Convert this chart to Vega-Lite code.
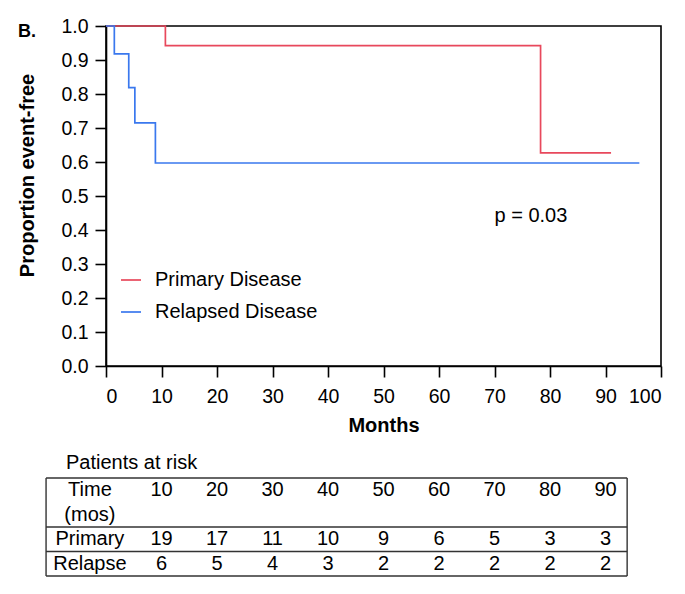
{
  "$schema": "https://vega.github.io/schema/vega-lite/v6.json",
  "background": "white",
  "padding": {"left": 17, "top": 15, "right": 10, "bottom": 10},
  "config": {
    "font": "Liberation Sans",
    "view": {"stroke": null},
    "axis": {
      "domainColor": "black", "domainWidth": 1.6,
      "tickColor": "black", "tickWidth": 1.6, "tickSize": 11,
      "labelFont": "Liberation Sans", "labelFontSize": 19.5, "labelColor": "black",
      "labelOverlap": false,
      "titleFont": "Liberation Sans", "titleFontSize": 20, "titleFontWeight": "bold", "titleColor": "black",
      "grid": false
    }
  },
  "spacing": 16,
  "resolve": {
    "scale": {"color": "independent", "x": "independent", "y": "independent"},
    "legend": {"color": "independent"}
  },
  "vconcat": [
    {
      "width": 555,
      "height": 340,
      "view": {"stroke": "black", "strokeWidth": 1.6},
      "title": {
        "text": "B.", "anchor": "start", "frame": "group",
        "fontSize": 18, "fontWeight": "bold", "color": "black", "font": "Liberation Sans",
        "dx": -88, "dy": 39, "offset": 0, "baseline": "alphabetic"
      },
      "layer": [
        {
          "data": {
            "values": [
              {"group": "Primary Disease", "month": 0, "surv": 1.0},
              {"group": "Primary Disease", "month": 10.7, "surv": 0.942},
              {"group": "Primary Disease", "month": 78.3, "surv": 0.627},
              {"group": "Primary Disease", "month": 91.0, "surv": 0.627},
              {"group": "Relapsed Disease", "month": 0, "surv": 1.0},
              {"group": "Relapsed Disease", "month": 1.5, "surv": 0.918},
              {"group": "Relapsed Disease", "month": 4.1, "surv": 0.819},
              {"group": "Relapsed Disease", "month": 5.2, "surv": 0.715},
              {"group": "Relapsed Disease", "month": 8.9, "surv": 0.597},
              {"group": "Relapsed Disease", "month": 96.1, "surv": 0.597}
            ]
          },
          "mark": {"type": "line", "interpolate": "step-after", "strokeWidth": 1.7},
          "encoding": {
            "x": {
              "field": "month", "type": "quantitative",
              "scale": {"domain": [0, 100], "nice": false},
              "axis": {
                "title": "Months",
                "values": [0, 10, 20, 30, 40, 50, 60, 70, 80, 90, 100],
                "labelOverlap": false,
                "labelPadding": 10, "titlePadding": 10
              }
            },
            "y": {
              "field": "surv", "type": "quantitative",
              "scale": {"domain": [0, 1], "nice": false},
              "axis": {
                "title": "Proportion event-free",
                "values": [0, 0.1, 0.2, 0.3, 0.4, 0.5, 0.6, 0.7, 0.8, 0.9, 1.0],
                "tickCount": 11,
                "format": ".1f",
                "labelOverlap": false,
                "labelSeparation": 0,
                "labelPadding": 7, "titlePadding": 23, "titleY": 149
              }
            },
            "color": {
              "field": "group", "type": "nominal",
              "scale": {"domain": ["Primary Disease", "Relapsed Disease"], "range": ["#e8485c", "#3a78ee"]},
              "legend": {
                "title": null, "orient": "none", "legendX": 14, "legendY": 243,
                "symbolType": "stroke", "symbolSize": 400, "symbolStrokeWidth": 1.7,
                "labelFont": "Liberation Sans", "labelFontSize": 20, "labelColor": "black",
                "labelOffset": 13, "labelLimit": 400, "rowPadding": 11, "padding": 0
              }
            }
          }
        },
        {
          "data": {"values": [{"label": "p = 0.03"}]},
          "mark": {"type": "text", "align": "left", "baseline": "middle", "fontSize": 20, "font": "Liberation Sans", "color": "black"},
          "encoding": {
            "x": {"datum": 70, "type": "quantitative"},
            "y": {"datum": 0.44, "type": "quantitative"},
            "text": {"field": "label"}
          }
        }
      ]
    },
    {
      "width": 555,
      "height": 98,
      "view": {"stroke": null},
      "title": {
        "text": "Patients at risk", "anchor": "start", "frame": "group",
        "fontSize": 20, "fontWeight": "normal", "color": "black", "font": "Liberation Sans",
        "dx": -40, "dy": 19, "offset": 7, "baseline": "alphabetic"
      },
      "layer": [
        {
          "data": {"values": [{"line": 0.5}, {"line": 2.5}, {"line": 3.5}, {"line": 4.5}]},
          "mark": {"type": "rule", "color": "#333333", "strokeWidth": 1.4},
          "encoding": {
            "x": {"datum": -10.8, "type": "quantitative", "scale": {"domain": [0, 100], "nice": false}, "axis": null},
            "x2": {"datum": 93.9},
            "y": {"field": "line", "type": "quantitative", "scale": {"domain": [0.5, 4.5], "reverse": true, "nice": false, "zero": false}, "axis": null}
          }
        },
        {
          "data": {"values": [{"edge": -10.8}, {"edge": 93.9}]},
          "mark": {"type": "rule", "color": "#333333", "strokeWidth": 1.4},
          "encoding": {
            "x": {"field": "edge", "type": "quantitative"},
            "y": {"datum": 0.5, "type": "quantitative"},
            "y2": {"datum": 4.5}
          }
        },
        {
          "data": {
            "values": [
              {"line": 1, "label": "Time"},
              {"line": 2, "label": "(mos)"},
              {"line": 3, "label": "Primary"},
              {"line": 4, "label": "Relapse"}
            ]
          },
          "mark": {"type": "text", "align": "center", "baseline": "middle", "fontSize": 20, "font": "Liberation Sans", "color": "black"},
          "encoding": {
            "x": {"datum": -2.9, "type": "quantitative"},
            "y": {"field": "line", "type": "quantitative"},
            "text": {"field": "label"}
          }
        },
        {
          "data": {
            "values": [
              {"line": 1, "time": 10, "n": "10"}, {"line": 1, "time": 20, "n": "20"}, {"line": 1, "time": 30, "n": "30"},
              {"line": 1, "time": 40, "n": "40"}, {"line": 1, "time": 50, "n": "50"}, {"line": 1, "time": 60, "n": "60"},
              {"line": 1, "time": 70, "n": "70"}, {"line": 1, "time": 80, "n": "80"}, {"line": 1, "time": 90, "n": "90"},
              {"line": 3, "time": 10, "n": "19"}, {"line": 3, "time": 20, "n": "17"}, {"line": 3, "time": 30, "n": "11"},
              {"line": 3, "time": 40, "n": "10"}, {"line": 3, "time": 50, "n": "9"}, {"line": 3, "time": 60, "n": "6"},
              {"line": 3, "time": 70, "n": "5"}, {"line": 3, "time": 80, "n": "3"}, {"line": 3, "time": 90, "n": "3"},
              {"line": 4, "time": 10, "n": "6"}, {"line": 4, "time": 20, "n": "5"}, {"line": 4, "time": 30, "n": "4"},
              {"line": 4, "time": 40, "n": "3"}, {"line": 4, "time": 50, "n": "2"}, {"line": 4, "time": 60, "n": "2"},
              {"line": 4, "time": 70, "n": "2"}, {"line": 4, "time": 80, "n": "2"}, {"line": 4, "time": 90, "n": "2"}
            ]
          },
          "mark": {"type": "text", "align": "center", "baseline": "middle", "fontSize": 20, "font": "Liberation Sans", "color": "black"},
          "encoding": {
            "x": {"field": "time", "type": "quantitative"},
            "y": {"field": "line", "type": "quantitative"},
            "text": {"field": "n"}
          }
        }
      ]
    }
  ]
}
